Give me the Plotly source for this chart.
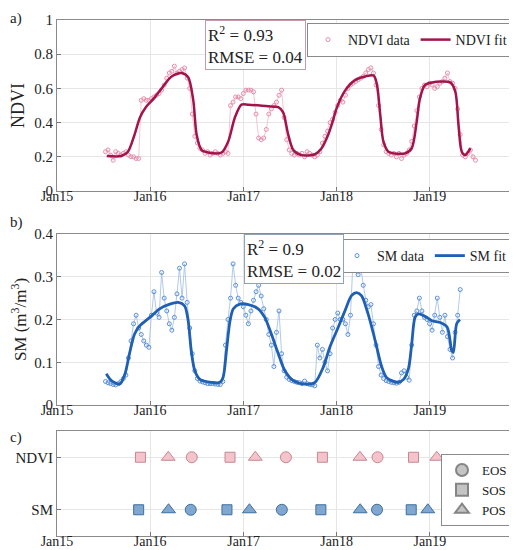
import pandas as pd
import plotly.graph_objects as go

# NDVI observations, every 10 days from 2015-07-10
ndvi_data = [
    0.23, 0.24, 0.21, 0.18, 0.23, 0.22, 0.21, 0.22, 0.23, 0.21,
    0.20, 0.20, 0.19, 0.19, 0.53, 0.54, 0.53, 0.53, 0.54, 0.55,
    0.56, 0.57, 0.59, 0.62, 0.66, 0.69, 0.70, 0.73, 0.69, 0.70,
    0.71, 0.72, 0.66, 0.60, 0.45, 0.32, 0.28, 0.25, 0.24, 0.22,
    0.23, 0.21, 0.22, 0.23, 0.22, 0.21, 0.22, 0.23, 0.22, 0.50,
    0.52, 0.55, 0.55, 0.54, 0.57, 0.59, 0.59, 0.59, 0.58, 0.45,
    0.31, 0.30, 0.31, 0.36, 0.45, 0.48, 0.50, 0.52, 0.56, 0.59,
    0.43, 0.30, 0.24, 0.22, 0.21, 0.22, 0.21, 0.22, 0.20, 0.23,
    0.22, 0.21, 0.20, 0.21, 0.23, 0.28, 0.32, 0.35, 0.40, 0.42,
    0.46, 0.50, 0.53, 0.52, 0.56, 0.60, 0.62, 0.63, 0.64, 0.65,
    0.66, 0.67, 0.69, 0.71, 0.72, 0.69, 0.62, 0.50, 0.36, 0.27,
    0.23, 0.22, 0.21, 0.22, 0.20, 0.22, 0.19, 0.21, 0.22, 0.24,
    0.29, 0.38, 0.47, 0.55, 0.60, 0.62, 0.61, 0.63, 0.62, 0.60,
    0.61, 0.63, 0.64, 0.66, 0.69, 0.64, 0.63, 0.60, 0.48, 0.33,
    0.21, 0.20, 0.22, 0.24, 0.20, 0.18,
]

# SM observations, every 10 days from 2015-07-10
sm_data = [
    0.055, 0.052, 0.050, 0.048, 0.047, 0.050, 0.055, 0.062, 0.070, 0.110,
    0.150, 0.190, 0.210, 0.180, 0.165, 0.150, 0.140, 0.135, 0.210, 0.265,
    0.215, 0.205, 0.310, 0.250, 0.220, 0.190, 0.175, 0.205, 0.260, 0.320,
    0.250, 0.330, 0.240, 0.180, 0.120, 0.080, 0.062, 0.056, 0.054, 0.052,
    0.050, 0.050, 0.050, 0.049, 0.048, 0.048, 0.055, 0.140, 0.200, 0.250,
    0.330, 0.280, 0.250, 0.240, 0.230, 0.210, 0.190, 0.220, 0.245, 0.265,
    0.280, 0.255, 0.225, 0.200, 0.165, 0.140, 0.090, 0.170, 0.220, 0.120,
    0.080, 0.065, 0.060, 0.057, 0.055, 0.053, 0.052, 0.050, 0.056, 0.050,
    0.048, 0.047, 0.045, 0.140, 0.110, 0.130, 0.100, 0.080, 0.120, 0.180,
    0.200, 0.215, 0.200, 0.200, 0.190, 0.165, 0.210, 0.340, 0.330, 0.305,
    0.320, 0.280, 0.245, 0.230, 0.235, 0.190, 0.140, 0.090, 0.070, 0.062,
    0.057, 0.055, 0.053, 0.052, 0.051, 0.053, 0.075, 0.080, 0.065, 0.058,
    0.140, 0.210, 0.220, 0.250, 0.220, 0.205, 0.200, 0.190, 0.175, 0.210,
    0.250, 0.205, 0.170, 0.210, 0.160, 0.130, 0.110, 0.170, 0.210, 0.270,
]

ndvi_fit_dates = [
    '2015-07-15', '2015-09-10', '2015-10-06', '2015-11-01', '2015-11-22',
    '2015-12-15', '2016-01-15', '2016-02-15', '2016-03-25', '2016-05-03',
    '2016-05-29', '2016-06-18', '2016-07-01', '2016-07-20', '2016-08-16',
    '2016-10-07', '2016-11-02', '2016-11-28', '2016-12-24', '2017-01-20',
    '2017-04-07', '2017-05-17', '2017-06-05', '2017-06-25', '2017-07-15',
    '2017-08-16', '2017-10-08', '2017-11-03', '2017-11-29', '2017-12-15',
    '2018-01-02', '2018-02-04', '2018-03-15', '2018-04-23', '2018-05-26',
    '2018-06-08', '2018-06-21', '2018-07-03', '2018-07-23', '2018-09-26',
    '2018-10-22', '2018-11-10', '2018-11-23', '2018-12-13', '2019-01-09',
    '2019-03-22', '2019-04-11', '2019-04-23', '2019-05-06', '2019-05-19',
    '2019-06-09',
]
ndvi_fit = [
    0.205, 0.205, 0.23, 0.33, 0.43, 0.49, 0.54, 0.60, 0.67, 0.69,
    0.665, 0.53, 0.33, 0.24, 0.225, 0.225, 0.29, 0.43, 0.505, 0.505,
    0.495, 0.49, 0.46, 0.33, 0.24, 0.21, 0.215, 0.25, 0.33, 0.40,
    0.49, 0.59, 0.65, 0.67, 0.675, 0.62, 0.44, 0.29, 0.23, 0.22,
    0.25, 0.40, 0.54, 0.62, 0.635, 0.635, 0.58, 0.39, 0.23, 0.21,
    0.25,
]

sm_fit_dates = [
    '2015-07-13', '2015-08-02', '2015-09-04', '2015-09-24', '2015-10-12',
    '2015-11-01', '2015-11-21', '2015-12-31', '2016-02-07', '2016-03-18',
    '2016-04-20', '2016-05-15', '2016-05-29', '2016-06-10', '2016-06-24',
    '2016-07-14', '2016-08-28', '2016-09-30', '2016-10-13', '2016-10-26',
    '2016-11-09', '2016-11-22', '2016-12-17', '2017-01-20', '2017-02-27',
    '2017-03-25', '2017-04-20', '2017-05-17', '2017-06-12', '2017-07-15',
    '2017-08-29', '2017-10-08', '2017-11-09', '2017-12-05', '2018-01-07',
    '2018-02-02', '2018-02-28', '2018-03-20', '2018-04-08', '2018-05-04',
    '2018-06-01', '2018-06-26', '2018-07-16', '2018-08-30', '2018-09-20',
    '2018-10-09', '2018-10-22', '2018-11-04', '2018-11-17', '2018-12-20',
    '2019-01-09', '2019-02-11', '2019-03-10', '2019-03-28', '2019-04-03',
    '2019-04-16', '2019-04-29',
]
sm_fit = [
    0.073, 0.057, 0.049, 0.072, 0.12, 0.166, 0.185, 0.205, 0.225, 0.236,
    0.24, 0.232, 0.197, 0.127, 0.08, 0.06, 0.053, 0.053, 0.065, 0.127,
    0.197, 0.225, 0.236, 0.235, 0.225, 0.205, 0.166, 0.12, 0.08, 0.057,
    0.049, 0.053, 0.088, 0.135, 0.182, 0.22, 0.256, 0.263, 0.256, 0.213,
    0.15, 0.09, 0.064, 0.053, 0.06, 0.085, 0.143, 0.205, 0.213, 0.205,
    0.197, 0.193, 0.182, 0.127, 0.123, 0.19, 0.20,
]

# phenology dates (panel c)
ndvi_sos = ['2015-11-24', '2016-11-09', '2017-11-06', '2018-10-29']
ndvi_pos = ['2016-03-12', '2017-02-16', '2018-04-02', '2019-01-28']
ndvi_eos = ['2016-06-12', '2017-06-16', '2018-06-10']
sm_sos = ['2015-11-17', '2016-10-28', '2017-10-31', '2018-10-20']
sm_pos = ['2016-03-13', '2017-01-24', '2018-04-03', '2018-12-24']
sm_eos = ['2016-06-08', '2017-05-31', '2018-06-08']

year_ticks = ['2015-01-01', '2016-01-01', '2017-01-01', '2018-01-01', '2019-01-01']

ndvi_dates = pd.date_range('2015-07-10', periods=len(ndvi_data), freq='10D')
sm_dates = pd.date_range('2015-07-10', periods=len(sm_data), freq='10D')

FONT = 'Liberation Serif'
PINK_PT = '#e58fab'
PINK_FIT = '#a3134c'
BLUE_PT = '#5a8fd8'
BLUE_FIT = '#1f5fb4'

fig = go.Figure()

# panel a
fig.add_trace(go.Scatter(x=ndvi_dates, y=ndvi_data, mode='lines',
                         line=dict(color='#f1b8c8', width=0.8),
                         showlegend=False, xaxis='x', yaxis='y'))
fig.add_trace(go.Scatter(x=ndvi_dates, y=ndvi_data, mode='markers', name='NDVI data',
                         marker=dict(symbol='circle-open', size=4, color=PINK_PT, line=dict(width=1)),
                         legend='legend', xaxis='x', yaxis='y'))
fig.add_trace(go.Scatter(x=ndvi_fit_dates, y=ndvi_fit, mode='lines', name='NDVI fit',
                         line=dict(color=PINK_FIT, width=2.5, shape='spline', smoothing=0.8),
                         legend='legend', xaxis='x', yaxis='y'))

# panel b
fig.add_trace(go.Scatter(x=sm_dates, y=sm_data, mode='lines',
                         line=dict(color='#9dbbe6', width=0.8),
                         showlegend=False, xaxis='x2', yaxis='y2'))
fig.add_trace(go.Scatter(x=sm_dates, y=sm_data, mode='markers', name='SM data',
                         marker=dict(symbol='circle-open', size=4, color=BLUE_PT, line=dict(width=1)),
                         legend='legend2', xaxis='x2', yaxis='y2'))
fig.add_trace(go.Scatter(x=sm_fit_dates, y=sm_fit, mode='lines', name='SM fit',
                         line=dict(color=BLUE_FIT, width=2.8, shape='spline', smoothing=0.8),
                         legend='legend2', xaxis='x2', yaxis='y2'))

# panel c
symbols = {'EOS': ('circle', 11), 'SOS': ('square', 10), 'POS': ('triangle-up', 12)}
ndvi_pheno = {'EOS': ndvi_eos, 'SOS': ndvi_sos, 'POS': ndvi_pos}
sm_pheno = {'EOS': sm_eos, 'SOS': sm_sos, 'POS': sm_pos}
for key, (sym, size) in symbols.items():
    fig.add_trace(go.Scatter(x=ndvi_pheno[key], y=[2] * len(ndvi_pheno[key]), mode='markers',
                             marker=dict(symbol=sym, size=size, color='#f3c4cc',
                                         line=dict(color='#c98592', width=1)),
                             showlegend=False, xaxis='x3', yaxis='y3'))
    fig.add_trace(go.Scatter(x=sm_pheno[key], y=[1] * len(sm_pheno[key]), mode='markers',
                             marker=dict(symbol=sym, size=size, color='#7fa7cf',
                                         line=dict(color='#3e6f9f', width=1)),
                             showlegend=False, xaxis='x3', yaxis='y3'))
    # grey legend entries
    fig.add_trace(go.Scatter(x=[None], y=[None], mode='markers', name=key,
                             marker=dict(symbol=sym, size=size - 2, color='#c4c4c4',
                                         line=dict(color='#858585', width=1)),
                             legend='legend3', xaxis='x3', yaxis='y3'))

xcommon = dict(type='date', range=['2015-01-01', '2020-01-01'], tickvals=year_ticks,
               tickformat='%b%y', showgrid=True, gridcolor='#e6e6e6', ticks='inside',
               ticklen=4, tickcolor='#777777', showline=True, linecolor='#8a8a8a',
               mirror=True, zeroline=False, ticklabelstandoff=-8,
               tickfont=dict(family=FONT, size=14, color='#222222'),
               domain=[49 / 517, 515 / 517], automargin=False)
ycommon = dict(showgrid=True, gridcolor='#e6e6e6', ticks='inside', ticklen=4,
               tickcolor='#777777', showline=True, linecolor='#8a8a8a', mirror=True,
               zeroline=False, tickfont=dict(family=FONT, size=15, color='#222222'),
               automargin=False)
legend_style = dict(bgcolor='white', bordercolor='#8a8a8a', borderwidth=1,
                    font=dict(family=FONT, size=14), itemwidth=30, tracegroupgap=0)

fig.update_layout(
    width=517, height=550,
    margin=dict(l=0, r=0, t=0, b=0),
    plot_bgcolor='white', paper_bgcolor='white',
    font=dict(family=FONT, size=15, color='#222222'),
    xaxis=dict(xcommon, anchor='y'),
    yaxis=dict(ycommon, range=[0, 1], dtick=0.2, domain=[1 - 183 / 550, 1 - 12 / 550],
               title=dict(text='NDVI', font=dict(family=FONT, size=18), standoff=6)),
    xaxis2=dict(xcommon, anchor='y2'),
    yaxis2=dict(ycommon, range=[0, 0.4], dtick=0.1, domain=[1 - 397 / 550, 1 - 226 / 550],
                title=dict(text='SM (m<sup>3</sup>/m<sup>3</sup>)', font=dict(family=FONT, size=17),
                           standoff=6)),
    xaxis3=dict(xcommon, anchor='y3'),
    yaxis3=dict(ycommon, range=[0.5, 2.5], tickvals=[1, 2], ticktext=['SM', 'NDVI'],
                domain=[1 - 528 / 550, 1 - 423 / 550]),
    legend=dict(legend_style, orientation='h', x=505 / 517, xanchor='right',
                y=1 - 15 / 550, yanchor='top'),
    legend2=dict(legend_style, orientation='h', x=505 / 517, xanchor='right',
                 y=1 - 231 / 550, yanchor='top'),
    legend3=dict(legend_style, x=505 / 517, xanchor='right', y=1 - 446 / 550, yanchor='top',
                 itemsizing='constant', font=dict(family=FONT, size=13)),
    annotations=[
        dict(text='R<sup>2</sup> = 0.93<br>RMSE = 0.04', xref='paper', yref='paper',
             x=197 / 517, y=1 - 12 / 550, xanchor='left', yanchor='top', align='left',
             showarrow=False, font=dict(family=FONT, size=17), bgcolor='white',
             bordercolor='#c99aa6', borderwidth=1, borderpad=2),
        dict(text='R<sup>2</sup> = 0.9<br>RMSE = 0.02', xref='paper', yref='paper',
             x=236 / 517, y=1 - 226 / 550, xanchor='left', yanchor='top', align='left',
             showarrow=False, font=dict(family=FONT, size=17), bgcolor='white',
             bordercolor='#8fa3b8', borderwidth=1, borderpad=2),
        dict(text='a)', xref='paper', yref='paper', x=0, y=1, xanchor='left', yanchor='top',
             showarrow=False, font=dict(family=FONT, size=15)),
        dict(text='b)', xref='paper', yref='paper', x=0, y=1 - 204 / 550, xanchor='left',
             yanchor='top', showarrow=False, font=dict(family=FONT, size=15)),
        dict(text='c)', xref='paper', yref='paper', x=0, y=1 - 419 / 550, xanchor='left',
             yanchor='top', showarrow=False, font=dict(family=FONT, size=15)),
    ],
)

fig.write_html('out.html')
